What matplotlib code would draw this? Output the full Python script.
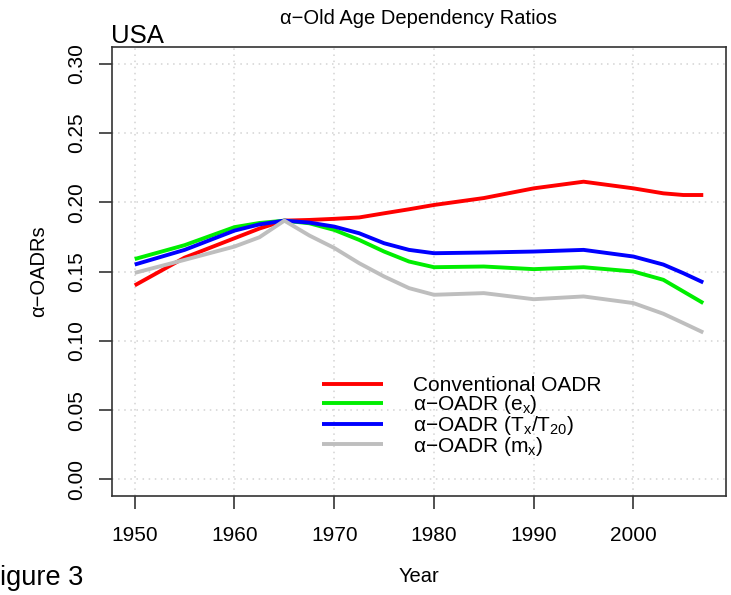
import matplotlib.pyplot as plt
import numpy as np

plt.rcParams['font.family'] = ['Liberation Sans', 'DejaVu Sans']
plt.rcParams['mathtext.default'] = 'regular'

# values
years = [1950, 1955, 1960, 1962.5, 1965, 1967.5, 1970, 1972.5, 1975, 1977.5,
         1980, 1985, 1990, 1995, 2000, 2003, 2005, 2007]

conventional = [0.140, 0.160, 0.174, 0.181, 0.1867, 0.1872, 0.1880, 0.1890, 0.192, 0.1949,
                0.198, 0.203, 0.210, 0.2148, 0.210, 0.2064, 0.2052, 0.2052]
oadr_ex = [0.159, 0.169, 0.182, 0.185, 0.1867, 0.1848, 0.180, 0.1728, 0.1644, 0.1572,
           0.1531, 0.1536, 0.1517, 0.1531, 0.150, 0.1440, 0.1356, 0.1272]
oadr_tx = [0.155, 0.1656, 0.1795, 0.184, 0.1867, 0.1853, 0.1824, 0.1776, 0.1704, 0.1656,
           0.1632, 0.1637, 0.1644, 0.1656, 0.1608, 0.1550, 0.1488, 0.1421]
oadr_mx = [0.149, 0.1584, 0.168, 0.1747, 0.1867, 0.176, 0.1670, 0.156, 0.1464, 0.138,
           0.1332, 0.1344, 0.1300, 0.1320, 0.1272, 0.1195, 0.1128, 0.106]

labels = ["Conventional OADR",
          "α−OADR (e$_x$)",
          "α−OADR (T$_x$/T$_{20}$)",
          "α−OADR (m$_x$)"]
colors = ["#ff0000", "#00ee00", "#0000ff", "#bebebe"]

xticks = [1950, 1960, 1970, 1980, 1990, 2000]
yticks = [0.00, 0.05, 0.10, 0.15, 0.20, 0.25, 0.30]

W, H = 731, 595
fig = plt.figure(figsize=(W / 100, H / 100), dpi=100)
ax = fig.add_axes([112 / W, (H - 496) / H, (726 - 112) / W, (496 - 47) / H])

# R style 4% padding
x0, x1 = min(years), max(years)
ax.set_xlim(x0 - 0.04 * (x1 - x0), x1 + 0.04 * (x1 - x0))
ax.set_ylim(-0.012, 0.312)

ax.set_xticks(xticks)
ax.set_yticks(yticks)
ax.set_yticklabels([f"{v:.2f}" for v in yticks], rotation=90, va='center')
ax.grid(True, color='#d3d3d3', linestyle=(0, (1, 3)), linewidth=1.1)
ax.set_axisbelow(True)

series = [conventional, oadr_ex, oadr_tx, oadr_mx]
for s, c, lab in zip(series, colors, labels):
    ax.plot(years, s, color=c, linewidth=2.8, label=lab, solid_capstyle='butt')

for sp in ax.spines.values():
    sp.set_color('#333333')
    sp.set_linewidth(1.2)
ax.tick_params(axis='both', direction='out', length=9.5, width=1.2, color='#333333',
               labelsize=15)
ax.tick_params(axis='x', pad=12)
ax.tick_params(axis='y', pad=9)

ax.set_xlabel("Year", fontsize=14.5, labelpad=16)
ax.set_ylabel("α−OADRs", fontsize=14.5, labelpad=14)

fig.text(419 / W, 1 - 18 / H, "α−Old Age Dependency Ratios", ha='center', va='center',
         fontsize=14.5)
fig.text(111 / W, 1 - 43 / H, "USA", ha='left', va='baseline', fontsize=18.5)
fig.text(0, 1 - 585 / H, "igure 3", ha='left', va='baseline', fontsize=19.5)

ax.legend(loc='upper left', bbox_to_anchor=(322 / W, 1 - 376 / H),
          bbox_transform=fig.transFigure, frameon=False, fontsize=15,
          handlelength=2.93, handletextpad=1.44, labelspacing=-0.1,
          borderpad=0, borderaxespad=0)

fig.savefig("out.png", dpi=100)
